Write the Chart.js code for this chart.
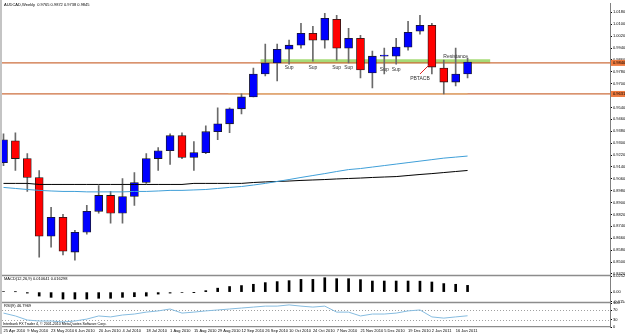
<!DOCTYPE html>
<html><head><meta charset="utf-8">
<script src="https://cdn.jsdelivr.net/npm/chart.js@4/dist/chart.umd.min.js"></script>
<style>
html,body{margin:0;padding:0;background:#fff;width:625px;height:334px;overflow:hidden}
#wrap{position:relative;width:625px;height:334px;background:#fff}
canvas{position:absolute;left:0}
#main{top:0}
#macd{top:272px}
#rsi{top:299px}
#frame{position:absolute;left:0;top:0;width:2px;height:334px;background:#c4c4c4}
</style></head><body>
<div id="wrap">
<canvas id="main" width="625" height="280"></canvas>
<canvas id="macd" width="625" height="34"></canvas>
<canvas id="rsi" width="625" height="35"></canvas>
<div id="frame"></div>
</div>
<script>
// ---------- data ----------
const weeks = ['25 Apr 2010','2 May 2010','9 May 2010','16 May 2010','23 May 2010','30 May 2010','6 Jun 2010','13 Jun 2010','20 Jun 2010','27 Jun 2010','4 Jul 2010','11 Jul 2010','18 Jul 2010','25 Jul 2010','1 Aug 2010','8 Aug 2010','15 Aug 2010','22 Aug 2010','29 Aug 2010','5 Sep 2010','12 Sep 2010','19 Sep 2010','26 Sep 2010','3 Oct 2010','10 Oct 2010','17 Oct 2010','24 Oct 2010','31 Oct 2010','7 Nov 2010','14 Nov 2010','21 Nov 2010','28 Nov 2010','5 Dec 2010','12 Dec 2010','19 Dec 2010','26 Dec 2010','2 Jan 2011','9 Jan 2011','16 Jan 2011','23 Jan 2011'];
const open  = [0.9169,0.9316,0.9196,0.9069,0.8674,0.8801,0.8567,0.8700,0.8841,0.8948,0.8828,0.8941,0.9035,0.9196,0.9249,0.9350,0.9203,0.9236,0.9377,0.9430,0.9531,0.9611,0.9765,0.9839,0.9932,0.9959,1.0039,0.9993,1.0133,0.9939,1.0006,0.9772,0.9885,0.9885,0.9946,1.0053,1.0093,0.9805,0.9711,0.9765];
const high  = [0.9363,0.9370,0.9229,0.9116,0.8868,0.8821,0.8713,0.8881,0.9015,0.8975,0.9062,0.9102,0.9229,0.9270,0.9363,0.9370,0.9310,0.9417,0.9537,0.9537,0.9631,0.9805,0.9966,0.9966,0.9993,1.0106,1.0086,1.0173,1.0160,1.0073,1.0026,0.9919,0.9939,1.0006,1.0120,1.0160,1.0106,0.9859,0.9939,0.9872];
const low   = [0.9149,0.9116,0.8975,0.8533,0.8600,0.8547,0.8513,0.8687,0.8828,0.8761,0.8761,0.8881,0.9029,0.9116,0.9156,0.9196,0.9116,0.9229,0.9323,0.9370,0.9497,0.9611,0.9752,0.9718,0.9832,0.9939,0.9852,0.9939,0.9859,0.9839,0.9738,0.9671,0.9765,0.9832,0.9926,1.0033,0.9765,0.9631,0.9685,0.9738];
const close = [0.9323,0.9196,0.9069,0.8674,0.8801,0.8573,0.8700,0.8841,0.8948,0.8828,0.8941,0.9035,0.9196,0.9249,0.9350,0.9203,0.9236,0.9377,0.9430,0.9531,0.9611,0.9765,0.9839,0.9932,0.9959,1.0039,0.9993,1.0140,0.9939,1.0006,0.9792,0.9885,0.9892,0.9946,1.0046,1.0093,0.9812,0.9711,0.9765,0.9845];
const maFast = [0.9002,0.8995,0.8988,0.8982,0.8978,0.8975,0.8975,0.8972,0.8972,0.8972,0.8972,0.8975,0.8975,0.8978,0.8982,0.8982,0.8985,0.8988,0.8995,0.9002,0.9008,0.9018,0.9029,0.9042,0.9055,0.9069,0.9082,0.9095,0.9109,0.9122,0.9129,0.9139,0.9149,0.9159,0.9169,0.9179,0.9189,0.9199,0.9206,0.9213];
const maSlow = [0.9029,0.9029,0.9029,0.9022,0.9022,0.9022,0.9022,0.9022,0.9022,0.9022,0.9022,0.9022,0.9022,0.9022,0.9022,0.9022,0.9029,0.9029,0.9029,0.9029,0.9029,0.9035,0.9039,0.9042,0.9045,0.9049,0.9052,0.9055,0.9059,0.9062,0.9065,0.9069,0.9072,0.9075,0.9082,0.9089,0.9095,0.9102,0.9109,0.9116];
const macdHist = [0.0008,0.0006,-0.0015,-0.0062,-0.0082,-0.0108,-0.0108,-0.0108,-0.0097,-0.0097,-0.0082,-0.0072,-0.0062,-0.0031,-0.0015,-0.0008,-0.0003,0.0023,0.0062,0.0088,0.0103,0.0123,0.0149,0.0165,0.0180,0.0200,0.0200,0.0226,0.0211,0.0211,0.0196,0.0174,0.0174,0.0174,0.0174,0.0172,0.0159,0.0134,0.0123,0.0106];
const rsi = [58,46,29,25,25,21,25,33,46,42,50,54,62,67,75,58,62,67,71,75,79,83,87,87,92,87,83,87,62,62,46,54,54,58,67,71,42,37,42,46.8];
const priceTicks = [1.0180,1.0100,1.0020,0.9940,0.9860,0.9780,0.9700,0.9620,0.9540,0.9460,0.9380,0.9300,0.9220,0.9140,0.9060,0.8980,0.8900,0.8820,0.8740,0.8660,0.8580,0.8500,0.8420];
const macdTicks = [0.025297,0,-0.01549];
const macdTickLabels = ['0.025297','0.00','-0.015490'];
const rsiTicks = [100,70,30,0];
const rsiLevels = [70,30];
const levels = [0.9840,0.9631];
const supIdx = [24,26,28,29,32,33];
const supPrice = [0.9805,0.9805,0.9805,0.9805,0.9792,0.9792];
const noteText = ['Resistance','PBTACB'];
const noteIdx = [38,35];
const notePrice = [0.9879,0.9731];

// ---------- layout constants ----------
const xMin = -0.126, xMax = 50.97;
const yMin = 0.84126, yMax = 1.02403;
const FONT = "'Liberation Sans', Arial, sans-serif";
const idx = weeks.map((w,i)=>i);
const dateTickIdx = idx.filter(i=>i%2===0);

function xScale(showDates){
  const s = {type:'linear', min:xMin, max:xMax, offset:false, display:!!showDates,
    grid:{display:false, drawTicks:false}, border:{display:true, color:'#8c8c8c', width:1.2}};
  if (showDates) {
    s.afterBuildTicks = sc => { sc.ticks = dateTickIdx.map(v=>({value:v})); };
    s.afterFit = sc => { sc.height = 7; };
    s.ticks = {autoSkip:false, source:'data', maxRotation:0, minRotation:0, align:'start', padding:1,
      color:'#000', font:{size:4, family:FONT}, callback:v=>weeks[v] || ''};
  }
  return s;
}
function yScale(min,max,ticks,labelFn){
  return {position:'right', min:min, max:max,
    afterFit(s){ s.width = 15; },
    afterBuildTicks(s){ s.ticks = ticks.map(v=>({value:v})); },
    ticks:{autoSkip:false, padding:1, color:'#000', font:{size:4, family:FONT}, callback:labelFn},
    grid:{drawOnChartArea:false, tickLength:2, color:'#000'},
    border:{display:true, color:'#808080'}};
}
function common(pad){
  return {responsive:false, maintainAspectRatio:false, animation:false, events:[],
    layout:{padding:pad},
    plugins:{legend:{display:false}, tooltip:{enabled:false}}};
}
function txt(ctx, s, x, y, size, color, align){
  ctx.font = size + 'px ' + FONT; ctx.fillStyle = color || '#000';
  ctx.textAlign = align || 'left'; ctx.textBaseline = 'middle'; ctx.fillText(s, x, y);
}
const separator = {id:'separator', afterDraw(chart){
  const {ctx, chartArea:a} = chart; ctx.save();
  ctx.strokeStyle = '#8c8c8c'; ctx.lineWidth = 1.5;
  ctx.beginPath(); ctx.moveTo(0, a.bottom + 0.5); ctx.lineTo(a.right, a.bottom + 0.5); ctx.stroke();
  ctx.restore();
}};

// ---------- main price chart (canvas 0..280, plot 2..275) ----------
const mainPlugin = {id:'mainDeco',
  beforeDatasetsDraw(chart){
    const {ctx, chartArea:a, scales:{x,y}} = chart; ctx.save();
    ctx.strokeStyle = 'rgba(150,212,95,0.85)'; ctx.lineWidth = 4;
    let gy = y.getPixelForValue(0.9851);
    ctx.beginPath(); ctx.moveTo(x.getPixelForValue(21.6), gy); ctx.lineTo(x.getPixelForValue(40.9), gy); ctx.stroke();
    ctx.strokeStyle = '#cd6f3e'; ctx.lineWidth = 1.2;
    levels.forEach(l=>{ const py = y.getPixelForValue(l);
      ctx.beginPath(); ctx.moveTo(a.left, py); ctx.lineTo(a.right, py); ctx.stroke(); });
    ctx.strokeStyle = '#e5b27a'; ctx.lineWidth = 1.2;
    const ly = y.getPixelForValue(levels[1]);
    ctx.beginPath(); ctx.moveTo(x.getPixelForValue(18.9), ly); ctx.lineTo(x.getPixelForValue(39), ly); ctx.stroke();
    ctx.restore();
  },
  afterDatasetsDraw(chart){
    const {ctx, scales:{x,y}} = chart; ctx.save();
    supIdx.forEach((i,k)=>txt(ctx,'Sup',x.getPixelForValue(i),y.getPixelForValue(supPrice[k]),5,'#333','center'));
    noteText.forEach((t,k)=>txt(ctx,t,x.getPixelForValue(noteIdx[k]),y.getPixelForValue(notePrice[k]),5,'#333','center'));
    ctx.strokeStyle = '#e02020'; ctx.lineWidth = 1;
    ctx.beginPath(); ctx.moveTo(x.getPixelForValue(35), y.getPixelForValue(0.9765));
    ctx.lineTo(x.getPixelForValue(35.75), y.getPixelForValue(0.9825)); ctx.stroke();
    ctx.restore();
  },
  afterDraw(chart){
    const {ctx, chartArea:a, scales:{y}} = chart; ctx.save();
    levels.forEach(l=>{ const py = y.getPixelForValue(l);
      ctx.fillStyle = '#f07a3e'; ctx.fillRect(a.right + 1, py - 3, 20, 6);
      txt(ctx, l.toFixed(4), a.right + 3, py, 4, '#000'); });
    const n = weeks.length - 1;
    txt(ctx, 'AUDCAD,Weekly  ' + [open[n],high[n],low[n],close[n]].map(v=>v.toFixed(4)).join(' '), 4, 5, 4, '#000');
    ctx.restore();
  }};

new Chart(document.getElementById('main'), {
  type:'bar',
  data:{datasets:[
    {type:'line', data:idx.map(i=>({x:i,y:maFast[i]})), borderColor:'#3f9fd8', borderWidth:1, pointRadius:0, order:0},
    {type:'line', data:idx.map(i=>({x:i,y:maSlow[i]})), borderColor:'#000', borderWidth:1, pointRadius:0, order:0},
    {type:'bar', data:idx.map(i=>({x:i,y:[Math.min(open[i],close[i]),Math.max(open[i],close[i])]})),
      backgroundColor:idx.map(i=>close[i]>=open[i]?'#0000ff':'#ff0000'),
      borderColor:'#1a1a1a', borderWidth:0.8, borderSkipped:false, barThickness:8, grouped:false, order:1},
    {type:'bar', data:idx.map(i=>({x:i,y:[low[i],high[i]]})), backgroundColor:'#6a6a6a',
      borderWidth:0, barThickness:1, grouped:false, order:2}
  ]},
  options:Object.assign(common({left:2, top:2, bottom:5, right:0}), {
    scales:{x:xScale(false), y:yScale(yMin,yMax,priceTicks,v=>v.toFixed(4))}
  }),
  plugins:[mainPlugin, separator]
});

// ---------- MACD (canvas 272..306, plot 276..302) ----------
new Chart(document.getElementById('macd'), {
  type:'bar',
  data:{datasets:[{data:idx.map(i=>({x:i,y:macdHist[i]})), backgroundColor:'#000', barThickness:2, grouped:false}]},
  options:Object.assign(common({left:2, top:4, bottom:4, right:0}), {
    scales:{x:xScale(false), y:yScale(-0.0155,0.0253,macdTicks,(v,i)=>macdTickLabels[i])}
  }),
  plugins:[separator, {id:'macdLabel', afterDraw(chart){
    const {ctx, chartArea:a} = chart; ctx.save();
    txt(ctx,'MACD(12,26,9) 0.010641 0.016298',4,a.top + 3,4,'#000'); ctx.restore(); }}]
});

// ---------- RSI + date axis (canvas 299..334, plot 303..327) ----------
new Chart(document.getElementById('rsi'), {
  type:'line',
  data:{datasets:[{data:idx.map(i=>({x:i,y:rsi[i]})), borderColor:'#86bce0', borderWidth:1, pointRadius:0}]},
  options:Object.assign(common({left:2, top:4, bottom:0, right:0}), {
    scales:{x:xScale(true), y:yScale(0,100,rsiTicks,v=>String(v))}
  }),
  plugins:[{id:'rsiDeco',
    beforeDatasetsDraw(chart){
      const {ctx, chartArea:a, scales:{y}} = chart; ctx.save();
      ctx.strokeStyle = '#a0a0a0'; ctx.lineWidth = 1; ctx.setLineDash([1,2]);
      rsiLevels.forEach(l=>{ const py = Math.round(y.getPixelForValue(l)) + 0.5;
        ctx.beginPath(); ctx.moveTo(a.left, py); ctx.lineTo(a.right, py); ctx.stroke(); });
      ctx.restore(); },
    afterDraw(chart){
      const {ctx, chartArea:a} = chart; ctx.save();
      txt(ctx,'RSI(9) 46.7969',4,a.top + 3,4,'#000');
      txt(ctx,'Interbank FX Trader 4, \u00a9 2001-2010 MetaQuotes Software Corp.',3,a.bottom - 3.5,3.6,'#000');
      ctx.restore(); }}]
});
</script>
</body></html>
